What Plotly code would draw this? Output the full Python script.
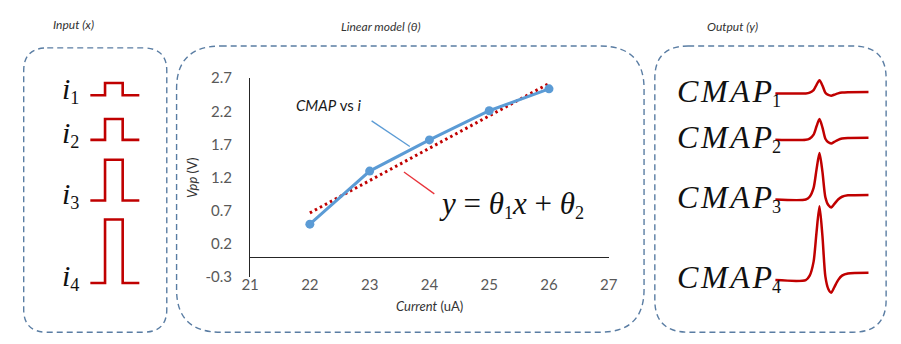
import plotly.graph_objects as go

# ---------------- data ----------------
current_uA = [22, 23, 24, 25, 26]
vpp_V = [0.50, 1.30, 1.77, 2.21, 2.54]
fit_x = [22, 26]
fit_y = [0.67, 2.62]
x_ticks = [21, 22, 23, 24, 25, 26, 27]
y_ticks = [-0.3, 0.2, 0.7, 1.2, 1.7, 2.2, 2.7]
y_tick_text = ["-0.3", "0.2", "0.7", "1.2", "1.7", "2.2", "2.7"]

pulse_index = ["1", "2", "3", "4"]
pulse_heights = [13, 22, 43, 67]          # relative stimulus amplitude (px)
cmap_heights = [14, 22, 49, 78]           # relative CMAP amplitude (px)
# normalised CMAP waveform template
cmap_t = [0, 31, 35, 39, 42, 45, 48, 51, 54, 57, 60, 64, 68, 74, 95]
cmap_v = [0, 0, 0.06, 0.25, 0.65, 1.0, 0.6, 0.05, -0.12, -0.17, -0.1, 0.0, 0.06, 0.09, 0.1]

# ---------------- layout constants ----------------
W, H = 901, 344
FONT = "Lato"
SERIF = "Liberation Serif"
RED = "#C00000"
BLUE = "#5B9BD5"
DASH = "#5A7DA3"
HS = "\u200a"

pulse_base = [90, 137, 201, 288]
pulse_x = [83, 98, 116, 133]
cmap_base = [88, 137, 200, 285]
cmap_x0 = 782

fig = go.Figure()

# main chart
fig.add_trace(go.Scatter(x=fit_x, y=fit_y, mode="lines",
                         line=dict(color=RED, width=3, dash="2.5px,3.2px"),
                         xaxis="x", yaxis="y", showlegend=False))
fig.add_trace(go.Scatter(x=current_uA, y=vpp_V, mode="lines+markers",
                         line=dict(color=BLUE, width=3),
                         marker=dict(color=BLUE, size=9),
                         xaxis="x", yaxis="y", showlegend=False))

# decorative pulses (input)
for b, h in zip(pulse_base, pulse_heights):
    xs = [pulse_x[0], pulse_x[1], pulse_x[1], pulse_x[2], pulse_x[2], pulse_x[3]]
    ys = [b, b, b - h, b - h, b, b]
    fig.add_trace(go.Scatter(x=xs, y=ys, mode="lines",
                             line=dict(color=RED, width=2.6),
                             xaxis="x2", yaxis="y2", showlegend=False))

# decorative CMAP waveforms (output)
for b, h in zip(cmap_base, cmap_heights):
    xs = [cmap_x0 + t for t in cmap_t]
    ys = [b - v * h for v in cmap_v]
    fig.add_trace(go.Scatter(x=xs, y=ys, mode="lines",
                             line=dict(color=RED, width=2.5, shape="spline", smoothing=0.7),
                             xaxis="x2", yaxis="y2", showlegend=False))


def rrect(x0, y0, x1, y1, r):
    return (f"M {x0+r},{y0} L {x1-r},{y0} Q {x1},{y0} {x1},{y0+r} "
            f"L {x1},{y1-r} Q {x1},{y1} {x1-r},{y1} L {x0+r},{y1} "
            f"Q {x0},{y1} {x0},{y1-r} L {x0},{y0+r} Q {x0},{y0} {x0+r},{y0} Z")


shapes = []
for (x0, y0, x1, y1, r) in [(15, 40, 161, 340, 24), (171, 38, 648, 340, 45), (659, 38, 895, 340, 34)]:
    shapes.append(dict(type="path", path=rrect(x0, y0, x1, y1, r), xref="x2", yref="y2",
                       line=dict(color=DASH, width=1.4, dash="6px,4px")))
# callout lines
shapes.append(dict(type="line", x0=370, y0=117, x1=409, y1=144, xref="x2", yref="y2",
                   line=dict(color=BLUE, width=1.3)))
shapes.append(dict(type="line", x0=403, y0=171, x1=434, y1=194, xref="x2", yref="y2",
                   line=dict(color="#E8333A", width=1.3)))

ann = []


def A(x, y, text, size, family=FONT, color="#222", xanchor="center", angle=0):
    ann.append(dict(x=x, y=y, xref="x2", yref="y2", text=text, showarrow=False,
                    font=dict(family=family, size=size, color=color),
                    xanchor=xanchor, yanchor="middle", textangle=angle))


def sub(k, px=26):
    return f'<span style="font-size:{px}px"><sub>{k}</sub></span>'


A(66, 15, "<i>Input (x)</i>", 12, color="#333")
A(380, 17, "<i>Linear model (θ)</i>", 12, color="#333")
A(738, 17, "<i>Output (y)</i>", 12, color="#333")
A(327, 100, "<i>CMAP</i> vs <i>i</i>", 15, color="#1a1a1a")
A(429, 312, "<i>Current</i> (uA)", 13, color="#333")
A(186, 177, "<i>Vpp</i> (V)", 13, color="#333", angle=-90)
A(513, 205, "<i>y</i> = <i>θ</i>" + sub("1") + "<i>x</i> + <i>θ</i>" + sub("2"),
  31, family=SERIF, color="#111")

for k, b in zip(pulse_index, pulse_base):
    A(52, b - 6, "<i>i</i>" + sub(k), 30, family=SERIF, color="#111", xanchor="left")
for k, b in zip(pulse_index, cmap_base):
    A(680, b - 2, "<i>" + HS.join("CMAP") + "</i>" + sub(k), 32, family=SERIF,
      color="#111", xanchor="left")

fig.update_layout(
    width=W, height=H, margin=dict(l=0, r=0, t=0, b=0),
    paper_bgcolor="white", plot_bgcolor="rgba(0,0,0,0)",
    shapes=shapes, annotations=ann,
    xaxis=dict(domain=[246 / W, 612 / W], range=[21, 27], tickvals=x_ticks,
               showgrid=False, zeroline=False, showline=False, ticks="",
               tickfont=dict(family=FONT, size=15, color="#595959"),
               ticklabelstandoff=-3, anchor="y"),
    yaxis=dict(domain=[1 - 282 / H, 1 - 72 / H], range=[-0.3, 2.7], tickvals=y_ticks,
               ticktext=y_tick_text, showgrid=False, zeroline=True, zerolinecolor="#262626",
               zerolinewidth=1.3, showline=True, linecolor="#262626", linewidth=1.3, ticks="",
               tickfont=dict(family=FONT, size=15, color="#595959"),
               ticklabelstandoff=14, anchor="x"),
    xaxis2=dict(domain=[0, 1], range=[0, W], visible=False, anchor="y2"),
    yaxis2=dict(domain=[0, 1], range=[H, 0], visible=False, anchor="x2"),
)

fig.write_html("out.html")
